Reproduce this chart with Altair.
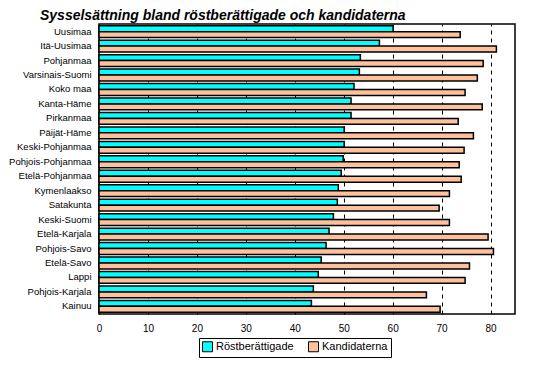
import altair as alt
import pandas as pd

title_text = "Sysselsättning bland röstberättigade och kandidaterna"
regions = ["Uusimaa", "Itä-Uusimaa", "Pohjanmaa", "Varsinais-Suomi", "Koko maa",
           "Kanta-Häme", "Pirkanmaa", "Päijät-Häme", "Keski-Pohjanmaa", "Pohjois-Pohjanmaa",
           "Etelä-Pohjanmaa", "Kymenlaakso", "Satakunta", "Keski-Suomi", "Etelä-Karjala",
           "Pohjois-Savo", "Etelä-Savo", "Lappi", "Pohjois-Karjala", "Kainuu"]
rost = [60.1, 57.3, 53.4, 53.2, 52.1, 51.5, 51.5, 50.1, 50.1, 49.9,
        49.5, 48.9, 48.7, 47.9, 47.0, 46.4, 45.4, 44.8, 43.8, 43.4]
kand = [73.8, 81.2, 78.5, 77.3, 74.8, 78.3, 73.4, 76.5, 74.6, 73.6,
        74.0, 71.6, 69.5, 71.6, 79.5, 80.6, 75.7, 74.8, 66.9, 69.7]
series = ["Röstberättigade", "Kandidaterna"]
ticks = [0, 10, 20, 30, 40, 50, 60, 70, 80]

rows = []
for r, a, b in zip(regions, rost, kand):
    rows.append({"region": r, "serie": series[0], "value": a})
    rows.append({"region": r, "serie": series[1], "value": b})
df = pd.DataFrame(rows)

bars = alt.Chart(df).mark_bar(stroke="black", strokeWidth=1.5).encode(
    y=alt.Y("region:N", sort=regions, title=None,
            scale=alt.Scale(paddingInner=0.18, paddingOuter=0.12),
            axis=alt.Axis(ticks=False, domain=False, labelPadding=8, labelFontSize=9.5,
                          labelFont="Liberation Sans", labelColor="black")),
    yOffset=alt.YOffset("serie:N", sort=series),
    x=alt.X("value:Q", title=None,
            scale=alt.Scale(domain=[0, 85], nice=False),
            axis=alt.Axis(values=ticks, grid=True, gridColor="black", gridDash=[4, 4],
                          gridWidth=1, ticks=False, domain=False, labelPadding=9,
                          labelFontSize=10, labelFont="Liberation Sans", labelColor="black",
                          labelFlush=False)),
    color=alt.Color("serie:N", sort=series,
                    scale=alt.Scale(domain=series, range=["#00FFFF", "#FFC09C"]),
                    legend=alt.Legend(title=None, orient="none", legendX=100, legendY=314,
                                      direction="horizontal", strokeColor="black",
                                      padding=3, symbolType="square", symbolSize=100,
                                      symbolStrokeColor="black", symbolStrokeWidth=1,
                                      labelFontSize=11, labelFont="Liberation Sans",
                                      labelColor="black", columnPadding=12, symbolOffset=0,
                                      labelOffset=3)),
)

title = alt.Chart(pd.DataFrame({"t": [title_text]})).mark_text(
    align="left", baseline="alphabetic", fontSize=14, fontStyle="italic",
    fontWeight="bold", font="Liberation Sans", color="black"
).encode(x=alt.value(-59), y=alt.value(-4), text="t:N")

chart = alt.layer(bars, title).properties(
    width=416, height=290,
    autosize=alt.AutoSizeParams(type="none"),
    padding={"left": 91, "top": 16, "right": 23, "bottom": 65},
    background="white",
).configure_view(stroke="black", strokeWidth=1.5)

chart.save("out.html", embed_options={"renderer": "svg", "actions": False})
